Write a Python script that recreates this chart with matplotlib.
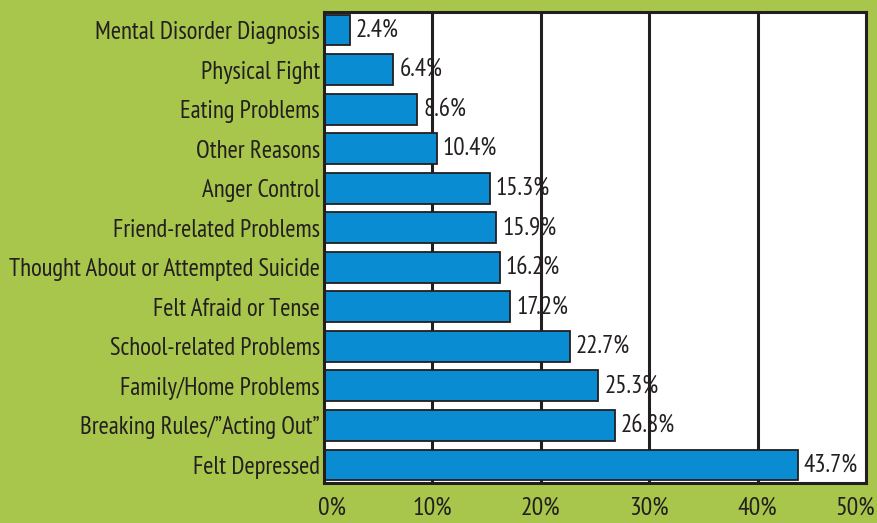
import matplotlib
matplotlib.use("Agg")
import matplotlib.pyplot as plt
from matplotlib import font_manager
import matplotlib.transforms as mtransforms

names = {f.name for f in font_manager.fontManager.ttflist}
fam = "DejaVu Sans"
for cand in ["PT Sans Narrow", "Open Sans Condensed", "Roboto Condensed",
             "Archivo Narrow", "Asap Condensed", "Liberation Sans Narrow"]:
    if cand in names:
        fam = cand
        break
plt.rcParams['font.family'] = [fam, 'DejaVu Sans']

categories = ["Mental Disorder Diagnosis", "Physical Fight", "Eating Problems",
              "Other Reasons", "Anger Control", "Friend-related Problems",
              "Thought About or Attempted Suicide", "Felt Afraid or Tense",
              "School-related Problems", "Family/Home Problems",
              "Breaking Rules/\u201dActing Out\u201d", "Felt Depressed"]
values = [2.4, 6.4, 8.6, 10.4, 15.3, 15.9, 16.2, 17.2, 22.7, 25.3, 26.8, 43.7]
value_labels = ["2.4%", "6.4%", "8.6%", "10.4%", "15.3%", "15.9%", "16.2%",
                "17.2%", "22.7%", "25.3%", "26.8%", "43.7%"]
xticks = [0, 10, 20, 30, 40, 50]
xtick_labels = ["0%", "10%", "20%", "30%", "40%", "50%"]

GREEN = "#A8C64B"
BLUE = "#0A8CD2"
DARK = "#231F20"

fig = plt.figure(figsize=(8.77, 5.23), dpi=100, facecolor=GREEN)
ax = fig.add_axes([324/877, 40/523, 542/877, 471/523])
ax.set_facecolor("white")

ypos = list(range(len(categories)))
for x in xticks[1:-1]:
    ax.axvline(x, color=DARK, lw=2.2, zorder=1)
ax.barh(ypos, values, height=0.78, color=BLUE, edgecolor=DARK, linewidth=1.3, zorder=2)
ax.set_xlim(0, 50)
ax.set_ylim(len(categories) - 0.545, -0.455)

off = mtransforms.offset_copy(ax.transData, fig=fig, x=6, y=0, units='dots')
for y, v, lab in zip(ypos, values, value_labels):
    ax.text(v, y, lab, transform=off, ha='left', va='center', fontsize=18,
            color=DARK, zorder=3)

ax.set_yticks(ypos)
ax.set_yticklabels(categories, fontsize=17.8, color=DARK)
ax.set_xticks(xticks)
ax.set_xticklabels(xtick_labels, fontsize=18.5, color=DARK)
ax.tick_params(axis='both', length=0)
ax.tick_params(axis='y', pad=3)
ax.tick_params(axis='x', pad=10)
for s in ax.spines.values():
    s.set_color(DARK)
    s.set_linewidth(2.2)

labs = ax.get_xticklabels()
labs[0].set_transform(labs[0].get_transform() + mtransforms.ScaledTranslation(8/100, 0, fig.dpi_scale_trans))
labs[-1].set_transform(labs[-1].get_transform() + mtransforms.ScaledTranslation(-11/100, 0, fig.dpi_scale_trans))

fig.savefig("out.png", dpi=100, facecolor=GREEN)
